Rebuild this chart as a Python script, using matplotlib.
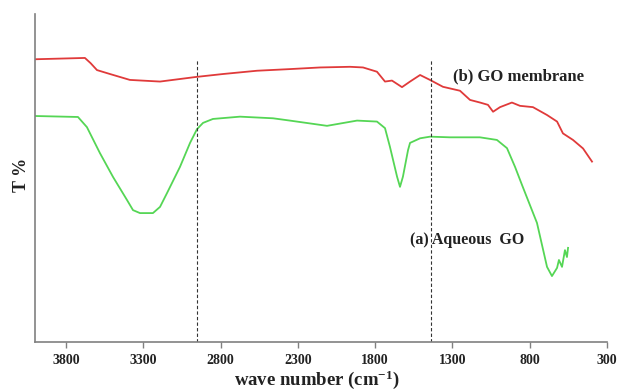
import numpy as np
import matplotlib
matplotlib.use("Agg")
import matplotlib.pyplot as plt

plt.rcParams['font.family'] = ['Liberation Serif', 'DejaVu Serif']
plt.rcParams['font.weight'] = 'bold'
plt.rcParams['mathtext.fontset'] = 'custom'
plt.rcParams['mathtext.rm'] = 'Liberation Serif:bold'
plt.rcParams['mathtext.bf'] = 'Liberation Serif:bold'
plt.rcParams['mathtext.default'] = 'bf'

# (b) GO membrane, red trace
wn_b = [4000, 3677, 3640, 3599, 3515, 3386, 3191, 2959, 2784, 2564, 2351, 2156, 1962,
        1878, 1788, 1736, 1691, 1626, 1574, 1509, 1445, 1361, 1251, 1186, 1121,
        1070, 1037, 992, 915, 863, 779, 688, 623, 585, 520, 455, 397]
t_b = [86.2, 86.6, 85.0, 82.9, 81.7, 79.9, 79.4, 80.8, 81.7, 82.7, 83.2, 83.7, 83.9,
       83.7, 82.4, 79.4, 79.7, 77.7, 79.4, 81.4, 79.9, 77.8, 76.6, 73.8, 73.0,
       72.3, 70.2, 71.6, 73.0, 72.0, 71.6, 69.2, 67.2, 63.6, 61.6, 59.0, 55.0]

# (a) Aqueous GO, green trace
wn_a = [4000, 3722, 3664, 3580, 3495, 3405, 3366, 3321, 3237, 3191, 3146, 3062,
        2997, 2952, 2913, 2849, 2674, 2460, 2351, 2111, 1917, 1788, 1736, 1704,
        1658, 1639, 1620, 1587, 1574, 1509, 1445, 1316, 1122, 1012, 947, 895, 850,
        753, 688, 656, 623, 611, 591, 572, 559, 552]
t_a = [68.9, 68.6, 65.5, 57.6, 50.3, 43.3, 40.2, 39.3, 39.3, 41.2, 45.4, 53.4,
       60.7, 64.9, 66.8, 68.0, 68.7, 68.2, 67.5, 65.9, 67.5, 67.2, 65.2, 59.5,
       50.4, 47.3, 50.4, 58.5, 60.7, 62.1, 62.6, 62.4, 62.4, 61.6, 59.1, 53.4,
       47.9, 36.3, 22.9, 20.1, 22.6, 25.0, 22.9, 28.0, 25.9, 28.7]

marker_wn = [2950, 1440]
ticks = [3800, 3300, 2800, 2300, 1800, 1300, 800, 300]

fig = plt.figure(figsize=(6.17, 3.92), dpi=100)
ax = fig.add_axes([0.0567, 0.1276, 0.9271, 0.8367])

ax.plot(wn_b, t_b, color='#e03a3a', lw=1.3)
ax.plot(wn_a, t_a, color='#55d655', lw=1.3)
ax.vlines(marker_wn, 0, 86, colors='#333333', linestyles=(0, (3, 2)), lw=0.8)

ax.text(1296, 81.1, '(b) GO membrane', fontsize=12, fontweight='bold',
        ha='left', va='center', color='#222222')
ax.text(1574, 31.1, '(a) Aqueous  GO', fontsize=11.5, fontweight='bold',
        ha='left', va='center', color='#222222')

ax.set_xlim(4000, 300)
ax.set_ylim(0, 100)
ax.set_xticks(ticks)
ax.set_xticklabels([str(t) for t in ticks], fontsize=10, fontweight='bold', color='#222222')
ax.set_yticks([])
ax.tick_params(axis='x', direction='out', length=4, width=1, color='#808080', pad=5)
for s in ['top', 'right']:
    ax.spines[s].set_visible(False)
for s in ['left', 'bottom']:
    ax.spines[s].set_color('#808080')
    ax.spines[s].set_linewidth(1.2)

ax.set_xlabel(r'wave number (cm$^{-1}$)', fontsize=13.5, fontweight='bold', color='#222222')
ax.xaxis.set_label_coords(0.492, -0.13)
ax.xaxis.label.set_va('baseline')
fig.text(22 / 617, 1 - 175 / 392, 'T %', rotation=90, fontsize=13, fontweight='bold',
         ha='center', va='center', color='#222222')

fig.savefig('out.png', dpi=100)
